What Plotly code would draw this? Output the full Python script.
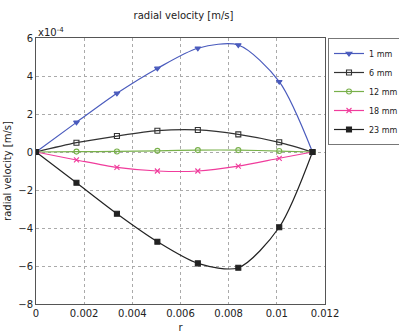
import plotly.graph_objects as go

# radial positions of the sampled points [m]
r = [0.0, 0.00168, 0.00336, 0.00504, 0.00672, 0.0084, 0.0101, 0.01148]

# radial velocity values, in units of 1e-4 m/s
v_1mm = [0.0, 1.56, 3.09, 4.40, 5.46, 5.63, 3.70, 0.0]
v_6mm = [0.0, 0.49, 0.84, 1.12, 1.16, 0.93, 0.51, 0.0]
v_12mm = [0.0, 0.02, 0.03, 0.06, 0.10, 0.10, 0.05, 0.0]
v_18mm = [0.0, -0.42, -0.81, -1.00, -1.00, -0.74, -0.33, 0.0]
v_23mm = [0.0, -1.62, -3.25, -4.72, -5.86, -6.09, -3.96, 0.0]

names = ["1 mm", "6 mm", "12 mm", "18 mm", "23 mm"]
series = [v_1mm, v_6mm, v_12mm, v_18mm, v_23mm]
colors = ["#4a5bbd", "#333333", "#78b04a", "#f03c9c", "#222222"]
symbols = ["triangle-down", "square-open", "circle-open", "x-thin-open", "square"]

x_ticks = [0, 0.002, 0.004, 0.006, 0.008, 0.01, 0.012]
x_labels = ["0", "0.002", "0.004", "0.006", "0.008", "0.01", "0.012"]
y_ticks = [-8, -6, -4, -2, 0, 2, 4, 6]

fig = go.Figure()
for name, vals, c, s in zip(names, series, colors, symbols):
    fig.add_trace(go.Scatter(
        x=r, y=vals, name=name, mode="lines+markers",
        line=dict(color=c, width=1.2, shape="spline", smoothing=0.8),
        marker=dict(symbol=s, size=5, color=c, line=dict(color=c, width=1.1)),
    ))

font = dict(family="DejaVu Sans", size=10, color="#222222")
axis_common = dict(
    showline=True, linecolor="#555555", linewidth=1, mirror=True,
    showgrid=True, gridcolor="#aaaaaa", griddash="dot", gridwidth=1,
    zeroline=False, ticks="", tickfont=font, automargin=False,
)
fig.update_layout(
    width=399, height=333,
    margin=dict(l=36, r=74, t=38, b=29, autoexpand=False),
    paper_bgcolor="white", plot_bgcolor="white",
    font=font,
    title=dict(text="radial velocity [m/s]", x=0.46, xanchor="center", y=0.965, yanchor="top",
               font=dict(family="DejaVu Sans", size=10, color="#222222")),
    xaxis=dict(range=[0, 0.012], tickvals=x_ticks, ticktext=x_labels,
               title=dict(text="r", font=font, standoff=6), **axis_common),
    yaxis=dict(range=[-8, 6], tickvals=y_ticks,
               title=dict(text="radial velocity [m/s]", font=font, standoff=4), **axis_common),
    legend=dict(xref="container", yref="container", x=328 / 399, y=1 - 38 / 333,
                xanchor="left", yanchor="top",
                bordercolor="#777777", borderwidth=1, bgcolor="white",
                font=dict(family="DejaVu Sans", size=8, color="#222222"),
                itemwidth=30, tracegroupgap=0),
    showlegend=True,
)
fig.add_annotation(x=0, y=1, xref="paper", yref="paper", xanchor="left", yanchor="bottom",
                   text="x10<sup>-4</sup>", showarrow=False, font=font, yshift=-2)
fig.write_html("out.html")
